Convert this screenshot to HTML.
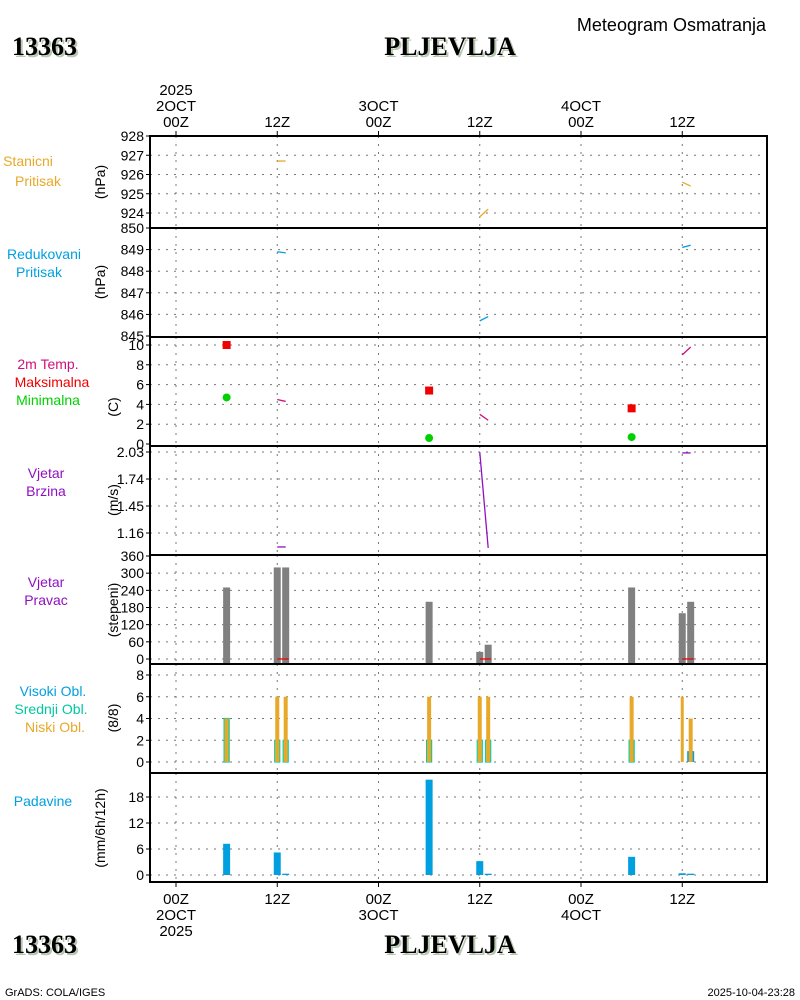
<!DOCTYPE html>
<html><head><meta charset="utf-8"><style>
body{margin:0;background:#fff;}
svg{display:block;font-family:"Liberation Sans",sans-serif;}
</style></head><body>
<svg id="c" width="800" height="1000" viewBox="0 0 800 1000"></svg>
<script>
// time (hours from 00Z 2 Oct) of observations
const obsHours=[6,12,13,30,36,37,54,60,61];
const stanHours=[[12,13],[36,37],[60,61]];
const stanVals=[[926.7,926.7],[923.8,924.2],[925.6,925.4]];
const redVals=[[848.9,848.85],[845.7,845.9],[849.1,849.2]];
const tempVals=[[4.5,4.3],[3.0,2.4],[9.0,9.8]];
const windVals=[[1.01,1.01],[2.03,1.00],[2.02,2.02]];
const extHours=[6,30,54];
const tmaxVals=[10,5.4,3.6];
const tminVals=[4.7,0.6,0.7];
const dirVals=[250,320,320,200,25,50,250,160,200];
const niskiVals=[4,6,6,6,6,6,6,6,4];
const srednjiVals=[4,2,2,2,2,2,2,0,0];
const visokiVals=[0,0,0,0,0,0,0,0,1];
const precipVals=[7.2,5.2,0.3,22,3.2,0.3,4.2,0.4,0.3];
const timeTicks=[0,12,24,36,48,60];
const topTickLabels=[["2025","2OCT","00Z"],["12Z"],["3OCT","00Z"],["12Z"],["4OCT","00Z"],["12Z"]];
const botTickLabels=[["00Z","2OCT","2025"],["12Z"],["00Z","3OCT"],["12Z"],["00Z","4OCT"],["12Z"]];

const S=document.getElementById('c'),NS='http://www.w3.org/2000/svg';
function el(t,a,p){const e=document.createElementNS(NS,t);for(const k in a)e.setAttribute(k,a[k]);(p||S).appendChild(e);return e;}
function txt(s,x,y,a){const e=el('text',Object.assign({x:x,y:y,'font-size':14},a||{}));e.textContent=s;return e;}
const L=150,R=767;
const X=h=>176+h*(581-176)/48;
function mk(v0,y0,v1,y1){return v=>y0+(v-v0)*(y1-y0)/(v1-v0);}
const P=[
 {name:'stanicni',top:136,bot:228,f:mk(928,136,924,213),ticks:[928,927,926,925,924]},
 {name:'redukovani',top:228,bot:337,f:mk(850,228,845,336),ticks:[850,849,848,847,846,845]},
 {name:'temp',top:337,bot:446,f:mk(10,345,0,444),ticks:[10,8,6,4,2,0]},
 {name:'wind',top:446,bot:555,f:mk(2.03,452,1.16,533),ticks:[2.03,1.74,1.45,1.16]},
 {name:'dir',top:555,bot:664,f:mk(360,556,0,659),ticks:[360,300,240,180,120,60,0]},
 {name:'cloud',top:664,bot:773,f:mk(8,675,0,762),ticks:[8,6,4,2,0]},
 {name:'precip',top:773,bot:882,f:mk(18,797,0,875),ticks:[18,12,6,0]}
];
P.forEach(p=>{
 const g=el('g',{});
 p.ticks.forEach(t=>{const y=p.f(t);
  if(y>p.top+2&&y<p.bot-2)el('line',{x1:L,x2:R,y1:y,y2:y,stroke:'#777','stroke-dasharray':'2,6'},g);
  el('line',{x1:L-4,x2:L,y1:y,y2:y,stroke:'#000'},g);
  const tl=txt(String(t),L-6,y+5,{'text-anchor':'end','font-size':14});
  
  
 });
 timeTicks.forEach(h=>el('line',{x1:X(h),x2:X(h),y1:p.top,y2:p.bot,stroke:'#777','stroke-dasharray':'2,6'},g));
});
const lab=[[ 'Stanicni',28,166,'#e8a828'],['Pritisak',38,186,'#e8a828'],['Redukovani',44,259,'#00a0e0'],['Pritisak',39,277,'#00a0e0'],
['2m Temp.',48,369,'#d0107a'],['Maksimalna',52,387,'#f00000'],['Minimalna',48,405,'#00d000'],['Vjetar',46,478,'#9010c0'],['Brzina',46,496,'#9010c0'],
['Vjetar',46,587,'#9010c0'],['Pravac',46,605,'#9010c0'],['Visoki Obl.',53,696,'#00a0e0'],['Srednji Obl.',51,714,'#00c8a0'],['Niski Obl.',55,732,'#e8a828'],['Padavine',43,806,'#00a0e0']];
lab.forEach(a=>{const t=txt(a[0],a[1],a[2],{'text-anchor':'middle',fill:a[3],'font-size':14});});
[['(hPa)',100,182],['(hPa)',100,282],['(C)',113,407],['(m/s)',113,500],['(stepeni)',113,610],['(8/8)',113,718],['(mm/6h/12h)',100,828]].forEach(a=>{
 const t=txt(a[0],a[1],a[2],{'text-anchor':'middle','transform':`rotate(-90 ${a[1]} ${a[2]})`,'dominant-baseline':'central'});});
const C={o:'#e8a828',b:'#00a0e0',m:'#d0107a',p:'#9010c0',r:'#f00000',g:'#00d000',t:'#00c8a0',gr:'#808080'};
function segs(vals,p,col,nm){stanHours.forEach((hh,i)=>{const l=el('line',{x1:X(hh[0]),x2:X(hh[1]),y1:p.f(vals[i][0]),y2:p.f(vals[i][1]),stroke:col,'stroke-width':1.3});
 });}
segs(stanVals,P[0],C.o,'stanicni-line');segs(redVals,P[1],C.b,'redukovani-line');segs(tempVals,P[2],C.m,'temp-line');segs(windVals,P[3],C.p,'wind-speed-line');
extHours.forEach((h,i)=>{const r=el('rect',{x:X(h)-4,y:P[2].f(tmaxVals[i])-4,width:8,height:8,fill:C.r});
 const c=el('circle',{cx:X(h),cy:P[2].f(tminVals[i]),r:4,fill:C.g});});
obsHours.forEach((h,i)=>{const x=X(h);
 const p=P[4],y=p.f(dirVals[i]);const b=el('rect',{x:x-3.5,y:y,width:7,height:p.f(0)-y+4,fill:C.gr});
 const q=P[5],y0=q.f(0);
 if(srednjiVals[i]>0){const s=el('rect',{x:x-2.5,y:q.f(srednjiVals[i]),width:5,height:y0-q.f(srednjiVals[i]),fill:'none',stroke:C.t,'stroke-width':1.2});}
 if(visokiVals[i]>0){const v=el('rect',{x:x-3.5,y:q.f(visokiVals[i]),width:7,height:y0-q.f(visokiVals[i]),fill:C.b});}
 const nw=(h==60)?3:4;const n=el('rect',{x:x-nw/2,y:q.f(niskiVals[i]),width:nw,height:y0-q.f(niskiVals[i]),fill:C.o});
 const r=P[6],py=r.f(precipVals[i]);const pb=el('rect',{x:x-3.5,y:py,width:7,height:Math.max(1,r.f(0)-py),fill:C.b});
});
stanHours.forEach(hh=>{el('line',{x1:X(hh[0]),x2:X(hh[1])+3,y1:659,y2:659,stroke:C.r,'stroke-width':1.3});});
P.forEach(p=>el('line',{x1:L,x2:R,y1:p.top,y2:p.top,stroke:'#000','stroke-width':2}));
el('rect',{x:L,y:136,width:R-L,height:882-136,fill:'none',stroke:'#000','stroke-width':2});
timeTicks.forEach((h,i)=>{const x=X(h);el('line',{x1:x,x2:x,y1:131,y2:136,stroke:'#000'});el('line',{x1:x,x2:x,y1:882,y2:887,stroke:'#000'});
 const t=topTickLabels[i];t.forEach((s,j)=>{const e=txt(s,x,127-(t.length-1-j)*16,{'text-anchor':'middle',"font-size":15});});
 botTickLabels[i].forEach((s,j)=>{const e=txt(s,x,904+j*16,{'text-anchor':'middle',"font-size":15});});});
function shadowText(s,x,y,anchor,nm){const g=el('g',{});
 const a={'font-family':'Liberation Serif, serif','font-weight':'bold','font-size':26,'text-anchor':anchor};
 const t1=el('text',Object.assign({x:x+2,y:y+2,fill:'#b8c8b0'},a),g);t1.textContent=s;const t2=el('text',Object.assign({x:x,y:y,fill:'#000'},a),g);t2.textContent=s;}
shadowText('13363',12,55,'start','station-id');shadowText('PLJEVLJA',450,55,'middle','station-name');
shadowText('13363',12,953,'start','station-id-bottom');shadowText('PLJEVLJA',450,953,'middle','station-name-bottom');
const ti=txt('Meteogram Osmatranja',766,31,{'text-anchor':'end','font-size':18});
const cr=txt('GrADS: COLA/IGES',5,996,{'font-size':11});
const ts=txt('2025-10-04-23:28',795,996,{'font-size':11,'text-anchor':'end'});
</script>
</body></html>
